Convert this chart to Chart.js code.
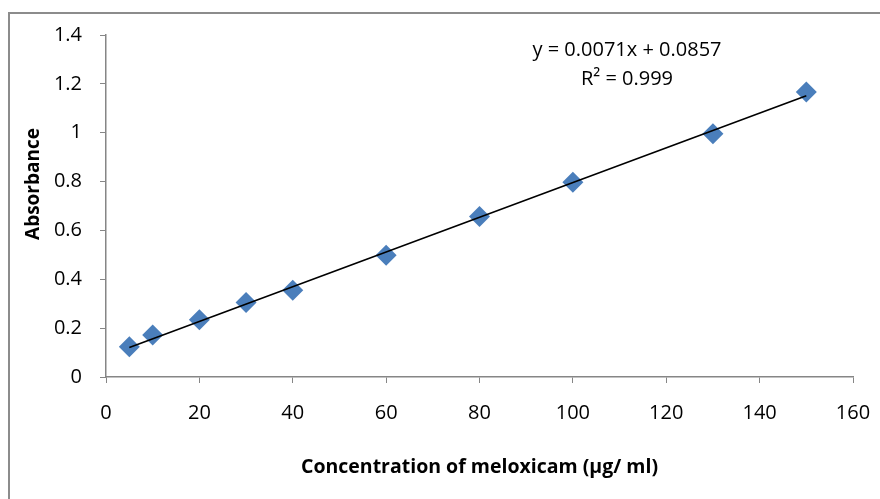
<!DOCTYPE html>
<html>
<head>
<meta charset="utf-8">
<script src="https://cdn.jsdelivr.net/npm/chart.js@4.4.1/dist/chart.umd.min.js"></script>
<style>
  html, body { margin: 0; padding: 0; background: #fff; }
  #wrap { position: relative; width: 880px; height: 499px; }
</style>
</head>
<body>
<div id="wrap"><canvas id="chart" width="880" height="499"></canvas></div>
<script>
'use strict';

// ─── DATA ────────────────────────────────────────────────────────────────────
const concentrations = [5, 10, 20, 30, 40, 60, 80, 100, 130, 150];
const absorbance     = [0.124, 0.172, 0.234, 0.305, 0.355, 0.498, 0.657, 0.797, 0.996, 1.167];
const trendX         = [5, 150];
const trendY         = [0.121, 1.151];
const equationText   = 'y = 0.0071x + 0.0857';
const r2Text         = 'R² = 0.999';
const xTitle         = 'Concentration of meloxicam (µg/ ml)';
const yTitle         = 'Absorbance';

const FONT = '"Open Sans"';
const AXIS_GRAY = '#868686';
const MARKER = '#4a7ebb';

// border around the chart + annotations
const decorations = {
  id: 'decorations',
  beforeDraw(chart) {
    const c = chart.ctx;
    c.save();
    c.strokeStyle = '#8c8c8c';
    c.lineWidth = 2;
    c.strokeRect(9, 13, 880, 500);
    c.restore();
  },
  afterDraw(chart) {
    const c = chart.ctx;
    c.save();
    c.fillStyle = '#000';
    c.textAlign = 'center';
    c.textBaseline = 'middle';
    c.font = `20px ${FONT}`;
    c.fillText(equationText, 627, 50);
    c.fillText(r2Text, 627, 79);
    c.font = `bold 19px ${FONT}`;
    c.translate(34, 184);
    c.rotate(-Math.PI / 2);
    c.fillText(yTitle, 0, 0);
    c.restore();
  }
};

new Chart(document.getElementById('chart'), {
  type: 'scatter',
  data: {
    datasets: [
      {
        label: 'Absorbance',
        data: concentrations.map((x, i) => ({ x, y: absorbance[i] })),
        pointStyle: 'rectRot',
        pointRadius: 10.5,
        backgroundColor: MARKER,
        borderColor: MARKER,
        borderWidth: 0,
        order: 2
      },
      {
        label: 'Linear',
        type: 'line',
        data: trendX.map((x, i) => ({ x, y: trendY[i] })),
        borderColor: '#000',
        borderWidth: 1.6,
        pointRadius: 0,
        fill: false,
        order: 1
      }
    ]
  },
  options: {
    responsive: false,
    animation: false,
    layout: { padding: { top: 35, right: 27, left: 0, bottom: 0 } },
    plugins: { legend: { display: false }, tooltip: { enabled: false } },
    scales: {
      x: {
        type: 'linear',
        min: 0, max: 160,
        afterFit(s) { s.height = 122; s.paddingLeft = 0; s.paddingRight = 0; },
        ticks: { stepSize: 20, color: '#000', padding: 18, font: { family: 'Open Sans', size: 20 } },
        grid: { drawOnChartArea: false, color: AXIS_GRAY, tickLength: 6, tickWidth: 1 },
        border: { color: AXIS_GRAY, width: 1.5 },
        title: {
          display: true, text: xTitle, color: '#000',
          font: { family: 'Open Sans', size: 19.5, weight: 'bold' },
          padding: { top: 4, bottom: 20 }
        }
      },
      y: {
        min: 0, max: 1.4,
        afterFit(s) { s.width = 106; s.paddingTop = 0; s.paddingBottom = 0; },
        ticks: { stepSize: 0.2, color: '#000', padding: 18, font: { family: 'Open Sans', size: 20 },
          callback: v => Math.round(v * 10) / 10 },
        grid: { drawOnChartArea: false, color: AXIS_GRAY, tickLength: 6, tickWidth: 1 },
        border: { color: AXIS_GRAY, width: 1.5 }
      }
    }
  },
  plugins: [decorations]
});
</script>
</body>
</html>
